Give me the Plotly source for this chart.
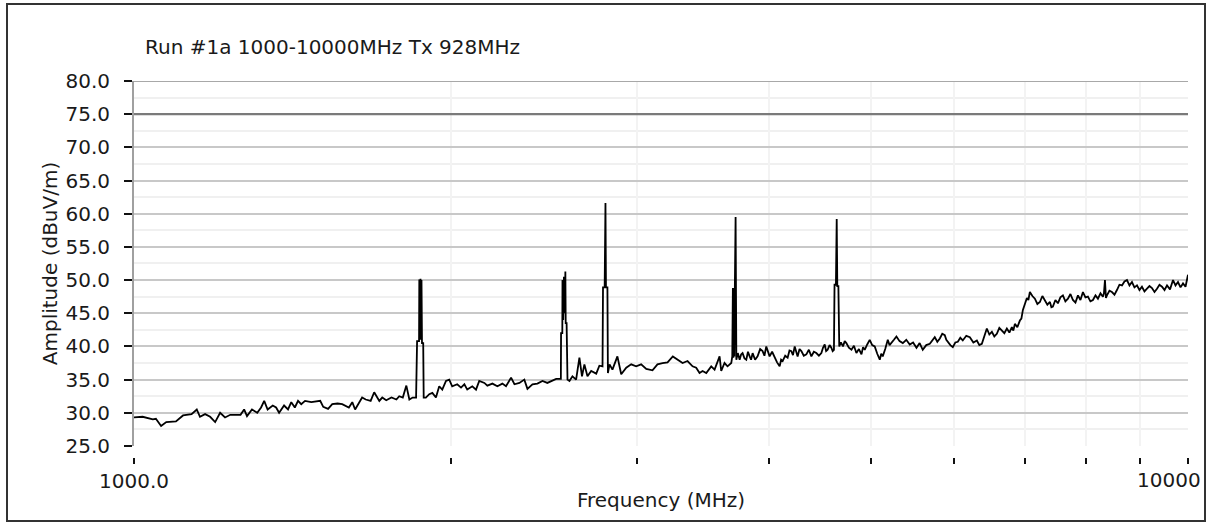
import plotly.graph_objects as go

# ---------------- data ----------------
freq_mhz = [
    1000, 1019, 1042, 1049, 1061, 1073, 1096, 1113, 1134, 1147, 1155, 1168, 1181, 1194, 1207, 1220,
    1234, 1262, 1272, 1280, 1294, 1309, 1320, 1329, 1339, 1354, 1364, 1373, 1388, 1400, 1410, 1421,
    1431, 1441, 1453, 1473, 1502, 1512, 1528, 1542, 1560, 1576, 1599, 1611, 1621, 1646, 1659, 1677,
    1690, 1709, 1720, 1735, 1755, 1774, 1785, 1799, 1813, 1825, 1838, 1852,
    1856, 1864, 1865, 1868, 1870, 1872, 1874, 1876, 1881, 1883,
    1892, 1906, 1919, 1934, 1948, 1961, 1977, 1991, 2004, 2026, 2043, 2058, 2071, 2094, 2111, 2126,
    2150, 2164, 2188, 2212, 2236, 2254, 2279, 2296, 2321, 2346, 2362, 2388, 2414, 2441, 2467, 2495,
    2515, 2533,
    2541, 2542, 2549, 2550, 2554, 2558, 2563, 2566, 2568, 2573, 2578,
    2589, 2606, 2627, 2646, 2661, 2675, 2693, 2715, 2745, 2764, 2783,
    2786, 2796, 2801, 2804, 2813, 2816,
    2826, 2844, 2875, 2899, 2931, 2963, 2995, 3028, 3062, 3104, 3138, 3173, 3208, 3245, 3279, 3315,
    3351, 3388, 3415, 3440, 3463, 3491, 3529, 3555, 3594, 3607, 3633, 3657, 3687,
    3695, 3700, 3704, 3708, 3712, 3716, 3722, 3728,
    3740, 3755, 3767, 3779, 3795, 3810, 3824, 3838, 3850, 3863, 3884, 3905, 3927, 3948, 3964, 3980,
    3995, 4009, 4031, 4053, 4075, 4098, 4111, 4125, 4148, 4170, 4187, 4204, 4219, 4235, 4248, 4262,
    4280, 4297, 4320, 4344, 4368, 4392, 4416, 4440, 4465, 4489, 4505, 4522, 4536, 4551, 4570, 4588,
    4601,
    4614, 4620, 4634, 4642, 4648, 4659, 4668,
    4685, 4706, 4724, 4741, 4767, 4794, 4820, 4846, 4873, 4900, 4917, 4935, 4962, 4989, 5016, 5044,
    5072, 5100, 5116, 5133, 5161, 5190, 5210, 5232, 5260, 5289, 5325, 5363, 5404, 5445, 5485, 5526,
    5564, 5602, 5645, 5689, 5720, 5751, 5783, 5815, 5846, 5878, 5898, 5917, 5950, 5982, 6015, 6048,
    6081, 6114, 6161, 6209, 6257, 6305, 6339, 6374, 6409, 6444, 6479, 6515, 6550, 6586, 6622, 6659,
    6695, 6732, 6769, 6806, 6828, 6851, 6888, 6926, 6949, 6972, 7002, 7033, 7056, 7079, 7118, 7157,
    7196, 7236, 7275, 7315, 7355, 7396, 7420, 7444, 7485, 7526, 7567, 7609, 7650, 7693, 7735, 7777,
    7820, 7863, 7906, 7949, 7993, 8036, 8080, 8125, 8170, 8214, 8260, 8304, 8322, 8341, 8359, 8377,
    8423, 8469, 8516, 8562, 8609, 8657, 8704, 8752, 8800, 8848, 8896, 8945, 8994, 9043, 9093, 9143,
    9193, 9243, 9294, 9345, 9396, 9448, 9500, 9552, 9615, 9678, 9731, 9784, 9838, 9892, 9946, 10000,
]

amplitude_dbuv = [
    29.3, 29.4, 29.0, 29.1, 28.0, 28.6, 28.7, 29.6, 29.8, 30.5, 29.4, 29.8, 29.4, 28.6, 30.0, 29.3,
    29.7, 29.7, 30.5, 29.5, 30.5, 30.0, 30.8, 31.8, 30.5, 31.1, 30.8, 30.0, 31.1, 30.5, 31.6, 30.8,
    31.8, 31.3, 31.8, 31.6, 31.8, 30.9, 30.6, 31.3, 31.4, 31.3, 30.8, 31.6, 30.5, 32.3, 32.0, 31.8,
    33.1, 31.8, 32.3, 31.9, 32.3, 32.0, 32.5, 32.3, 34.1, 32.0, 32.3, 32.3,
    40.8, 40.8, 50.1, 41.0, 50.2, 41.0, 50.0, 40.5, 40.5, 32.3,
    32.3, 32.8, 33.0, 32.3, 34.0, 33.5, 34.8, 35.0, 34.0, 34.3, 33.8, 34.3, 33.5, 34.0, 33.5, 34.8,
    34.5, 34.1, 34.4, 34.0, 34.4, 34.0, 35.3, 34.3, 34.5, 35.0, 33.6, 34.3, 34.4, 34.8, 34.5, 34.8,
    35.1, 35.1,
    35.1, 42.0, 42.0, 50.0, 44.0, 50.5, 45.0, 51.3, 43.5, 43.5, 35.0,
    34.8, 35.5, 35.0, 38.3, 35.5, 37.3, 35.5, 36.3, 35.9, 37.1, 37.0,
    48.9, 48.9, 61.6, 48.9, 48.9, 36.0,
    37.3, 36.5, 38.5, 35.8, 36.8, 37.3, 37.0, 37.3, 36.6, 36.4, 37.3, 37.5, 37.6, 38.5, 38.0, 37.5,
    37.8, 37.0, 36.8, 36.0, 36.3, 36.0, 37.0, 36.5, 38.5, 36.3, 37.5, 37.0, 37.5,
    38.5, 48.8, 38.3, 48.8, 38.5, 49.0, 59.5, 38.0,
    39.0, 38.0, 38.8, 39.0, 38.2, 38.0, 39.2, 38.5, 38.0, 39.0, 38.0, 38.5, 39.6, 39.3, 38.6, 40.0,
    39.0, 38.5, 39.2, 38.3, 37.6, 37.0, 38.0, 37.8, 38.6, 38.3, 39.4, 39.3, 38.7, 40.0, 39.4, 38.5,
    39.6, 39.3, 38.6, 38.8, 39.5, 38.5, 39.2, 39.0, 38.6, 39.0, 39.8, 40.3, 39.3, 39.5, 40.2, 39.8,
    39.3,
    39.5, 49.3, 49.3, 59.2, 49.1, 49.1, 40.0,
    40.6, 40.0, 40.8, 40.5, 39.8, 39.5, 40.1, 39.0, 39.6, 38.8, 39.9, 39.5, 40.3, 41.0, 40.2, 40.0,
    38.9, 38.0, 38.9, 38.5, 39.6, 41.0, 40.2, 40.5, 41.0, 41.5, 40.8, 40.5, 41.0, 40.3, 40.6, 39.8,
    40.5, 39.5, 40.2, 40.4, 41.0, 41.4, 40.7, 41.2, 41.9, 41.7, 41.0, 40.7, 40.2, 39.9, 40.6, 40.7,
    41.3, 40.9, 41.6, 41.4, 40.6, 40.9, 40.2, 40.4, 41.7, 42.7, 41.8, 42.2, 41.5, 41.9, 42.8, 42.4,
    42.0, 42.7, 42.1, 42.9, 42.4, 43.4, 42.9, 43.9, 44.2, 45.5, 46.5, 47.3, 47.0, 48.2, 47.6, 47.2,
    46.4, 46.7, 47.6, 47.0, 46.3, 46.7, 45.9, 46.0, 47.0, 46.5, 47.4, 47.7, 46.8, 47.2, 47.9, 47.0,
    46.6, 47.7, 47.0, 48.2, 47.4, 47.5, 46.8, 47.0, 47.7, 47.2, 48.0, 47.5, 48.0, 50.0, 47.3, 47.7,
    48.4, 48.2, 47.8, 48.5, 49.3, 49.2, 49.8, 50.0, 49.2, 49.7, 48.9, 49.2, 48.5, 49.0, 48.3, 48.7,
    49.1, 48.8, 48.2, 48.7, 49.3, 49.0, 48.5, 49.2, 48.6, 50.0, 49.2, 49.7, 48.9, 49.5, 49.0, 50.8,
]

limit_freq = [1000, 10000]
limit_dbuv = [75.0, 75.0]

x_tick_vals = [1000, 2000, 3000, 4000, 5000, 6000, 7000, 8000, 9000, 10000]
x_tick_text = ["1000.0", "", "", "", "", "", "", "", "", ""]
x_end_label = "10000"
y_tick_vals = [25, 30, 35, 40, 45, 50, 55, 60, 65, 70, 75, 80]

title_text = "Run #1a 1000-10000MHz Tx 928MHz"
x_title = "Frequency (MHz)"
y_title = "Amplitude (dBuV/m)"

# ---------------- figure ----------------
FONT = "DejaVu Sans"
FS = 20
fig = go.Figure()

fig.add_trace(go.Scatter(
    x=limit_freq, y=limit_dbuv, mode="lines", xaxis="x2", yaxis="y",
    line=dict(color="#7a7a7a", width=2.2), hoverinfo="skip", showlegend=False,
))
fig.add_trace(go.Scatter(
    x=freq_mhz, y=amplitude_dbuv, mode="lines", xaxis="x", yaxis="y",
    line=dict(color="#000000", width=1.8), showlegend=False,
))

fig.update_layout(
    width=1207, height=527,
    margin=dict(l=134, r=19, t=81, b=70, autoexpand=False),
    paper_bgcolor="white", plot_bgcolor="white",
    font=dict(family=FONT, size=FS, color="#1a1a1a"),
    xaxis=dict(
        type="log", range=[3, 4], tickvals=x_tick_vals, showticklabels=False,
        ticks="", showgrid=True, gridcolor="#f3f3f3", gridwidth=1.5,
        showline=False, zeroline=False, automargin=False,
    ),
    xaxis2=dict(
        type="log", range=[3, 4], overlaying="x", anchor="free", position=0,
        tickvals=x_tick_vals, ticktext=x_tick_text, ticks="outside", ticklen=6,
        tickwidth=2, tickcolor="#111111", showgrid=False, showline=False,
        zeroline=False, tickfont=dict(family=FONT, size=FS),
        ticklabeloverflow="allow", automargin=False,
        title=dict(text=x_title, font=dict(family=FONT, size=FS), standoff=0),
    ),
    yaxis=dict(
        range=[25, 80], domain=[0.0293, 1], tickvals=y_tick_vals, tickformat=".1f",
        ticks="outside", ticklen=8, tickwidth=1.5, tickcolor="#111111",
        ticklabelstandoff=10, automargin=False,
        showgrid=True, gridcolor="#c8c8c8", gridwidth=1.5,
        minor=dict(dtick=2.5, tick0=25, showgrid=True, gridcolor="#f0f0f0", gridwidth=1.5, ticks=""),
        showline=True, linecolor="#a0a0a0", linewidth=2, zeroline=False,
        title=dict(text=y_title, font=dict(family=FONT, size=FS), standoff=2),
    ),
    shapes=[
        dict(type="line", xref="paper", yref="y", x0=0, x1=1, y0=80, y1=80,
             line=dict(color="#a8a8a8", width=2)),
        dict(type="rect", xref="paper", yref="paper",
             x0=(7 - 134) / 1054, x1=(1205 - 134) / 1054,
             y0=-(521 - 457) / 376, y1=1 + (81 - 4) / 376,
             line=dict(color="#333333", width=2), fillcolor="rgba(0,0,0,0)"),
    ],
    annotations=[
        dict(text=title_text, xref="paper", yref="paper",
             x=(143 - 134) / 1054, y=1 + (81 - 47) / 376,
             xanchor="left", yanchor="middle", showarrow=False,
             font=dict(family=FONT, size=FS, color="#1a1a1a")),
        dict(text=x_end_label, xref="paper", yref="paper",
             x=(1203 - 134) / 1054, y=-(480 - 457) / 376,
             xanchor="right", yanchor="middle", showarrow=False,
             font=dict(family=FONT, size=FS, color="#1a1a1a")),
    ],
)

fig.write_html("out.html", config={"displayModeBar": False},
               post_script="document.body.style.margin='0px';")
